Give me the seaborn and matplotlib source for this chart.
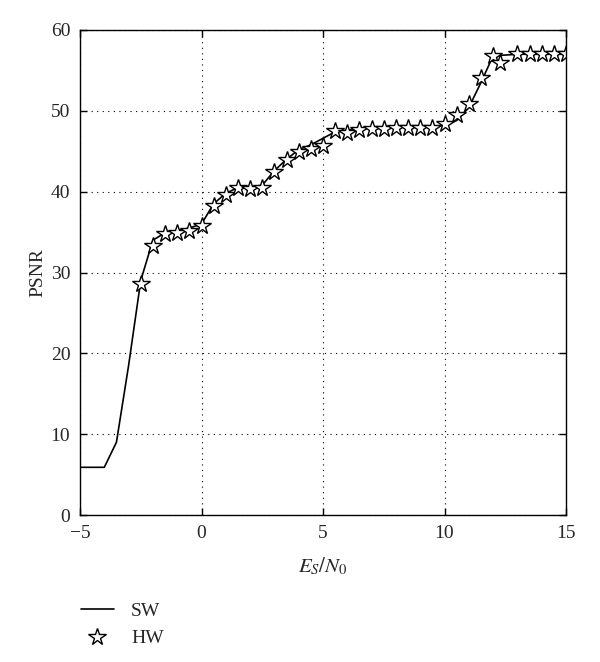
import matplotlib
matplotlib.use("Agg")
import matplotlib.pyplot as plt
import seaborn as sns
import pandas as pd

sw_x = [-5, -4.5, -4, -3.5, -3, -2.5, -2, -1.5, -1, -0.5, 0, 0.5, 1, 1.5, 2, 2.5, 3, 3.5, 4, 4.5,
        5, 5.5, 6, 6.5, 7, 7.5, 8, 8.5, 9, 9.5, 10, 10.5, 11, 11.5, 12, 12.5, 13, 13.5, 14, 14.5, 15]
sw_y = [5.9, 5.9, 5.9, 9.0, 18.5, 29.0, 34.0, 34.9, 35.2, 35.5, 36.0, 38.5, 39.8, 40.5, 40.6, 40.8,
        42.6, 44.0, 45.2, 45.8, 46.6, 47.4, 47.6, 47.8, 47.9, 48.0, 48.0, 48.0, 48.1, 48.1, 48.2,
        48.8, 50.4, 53.5, 56.8, 56.9, 57.0, 57.0, 57.0, 57.0, 57.0]

hw_x = [-2.5, -2, -1.5, -1, -0.5, 0, 0.5, 1, 1.5, 2, 2.5, 3, 3.5, 4, 4.5, 5, 5.5, 6, 6.5, 7,
        7.5, 8, 8.5, 9, 9.5, 10, 10.5, 11, 11.5, 12, 12.3, 13, 13.5, 14, 14.5, 15]
hw_y = [28.6, 33.3, 34.8, 34.9, 35.1, 35.8, 38.2, 39.6, 40.5, 40.3, 40.5, 42.4, 43.9, 44.9, 45.3,
        45.7, 47.5, 47.3, 47.6, 47.8, 47.8, 47.9, 47.9, 47.9, 47.9, 48.4, 49.5, 50.9, 54.1, 56.8,
        55.9, 57.0, 57.0, 57.0, 57.0, 57.0]

x_ticks = [-5, 0, 5, 10, 15]
y_ticks = [0, 10, 20, 30, 40, 50, 60]

sns.set_style("ticks")
plt.rcParams['font.family'] = ['Liberation Serif', 'DejaVu Serif']
plt.rcParams['mathtext.fontset'] = 'stix'
plt.rcParams['xtick.direction'] = 'in'
plt.rcParams['ytick.direction'] = 'in'

fig = plt.figure(figsize=(6.0, 6.62), dpi=100)
ax = fig.add_axes([80/600, 1-515/662, (566-80)/600, (515-30)/662])

sw = pd.DataFrame({"x": sw_x, "y": sw_y})
hw = pd.DataFrame({"x": hw_x, "y": hw_y})

sns.lineplot(data=sw, x="x", y="y", ax=ax, color="black", lw=1.2, label="SW", sort=False)
sns.lineplot(data=hw, x="x", y="y", ax=ax, color="black", lw=0, marker="*", markersize=13,
             markerfacecolor="white", markeredgecolor="black", markeredgewidth=1.0,
             label="HW", sort=False)

ax.set_xlim(-5, 15)
ax.set_ylim(0, 60)
ax.set_xticks(x_ticks)
ax.set_yticks(y_ticks)
ax.set_xticklabels(["\u22125", "0", "5", "10", "15"])
ax.tick_params(labelsize=14, length=5, width=1, top=True, right=True, color="black", pad=7)
ax.grid(True, color="black", linestyle=(0, (1, 4)), lw=0.8)
for s in ax.spines.values():
    s.set_visible(True)
    s.set_color("black")
    s.set_linewidth(1.0)

ax.set_xlabel(r"$E_S/N_0$", fontsize=15, labelpad=10)
ax.set_ylabel("PSNR", fontsize=14, labelpad=3)

leg = ax.legend(loc="upper left", bbox_to_anchor=(63/600, 1-585/662), bbox_transform=fig.transFigure,
                frameon=False, fontsize=14, handlelength=1.7, handletextpad=0.9, labelspacing=0.5)

fig.savefig("out.png", dpi=100)
